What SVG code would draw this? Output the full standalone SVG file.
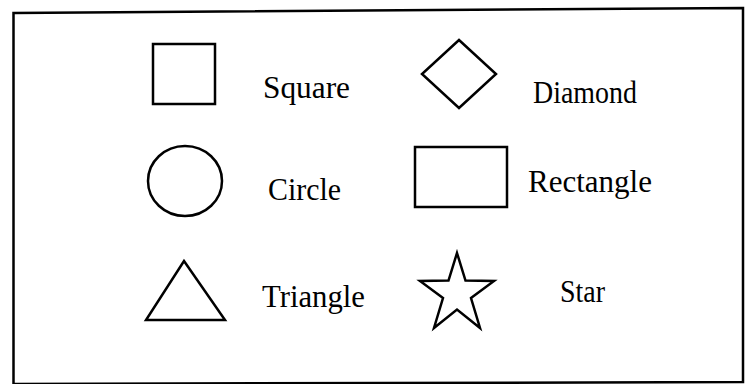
<svg xmlns="http://www.w3.org/2000/svg" width="746" height="384" viewBox="0 0 746 384">
<style>
.shape{fill:none;stroke:#000;stroke-width:2.5;stroke-linejoin:miter}
.lbl{font-family:"Liberation Serif","Times New Roman",serif;font-size:32px;fill:#000}
</style>
<rect width="746" height="384" fill="#fff"/>
<g id="frame">
<polygon class="shape" points="13.5,13 743,8 743,382 13.5,384"/>
</g>
<g id="square">
<rect class="shape" x="153" y="44" width="62" height="60"/>
<text class="lbl" x="263" y="98" textLength="87" lengthAdjust="spacingAndGlyphs">Square</text>
</g>
<g id="diamond">
<polygon class="shape" points="459,40 496,74 459,108 422,74"/>
<text class="lbl" x="533" y="103" textLength="104" lengthAdjust="spacingAndGlyphs">Diamond</text>
</g>
<g id="circle">
<ellipse class="shape" cx="185" cy="181" rx="37" ry="35"/>
<text class="lbl" x="268" y="200" textLength="73" lengthAdjust="spacingAndGlyphs">Circle</text>
</g>
<g id="rectangle">
<rect class="shape" x="415" y="147" width="92" height="60"/>
<text class="lbl" x="528" y="192" textLength="124" lengthAdjust="spacingAndGlyphs">Rectangle</text>
</g>
<g id="triangle">
<polygon class="shape" points="184,261 225,320 146,320"/>
<text class="lbl" x="262" y="307" textLength="103" lengthAdjust="spacingAndGlyphs">Triangle</text>
</g>
<g id="star">
<polygon class="shape" points="457,253 465.5,280.5 494,281 471,298 480,328 457,309.5 434,328 443,298 420,281 448.5,280.5"/>
<text class="lbl" x="560" y="302" textLength="45" lengthAdjust="spacingAndGlyphs">Star</text>
</g>
<g id="connectors"></g>
</svg>
